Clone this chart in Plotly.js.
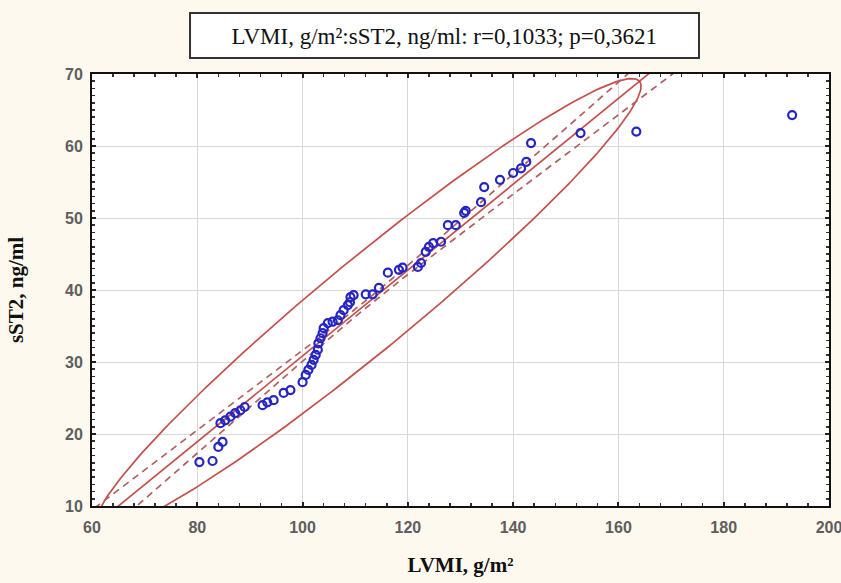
<!DOCTYPE html>
<html>
<head>
<meta charset="utf-8">
<script src="https://cdn.plot.ly/plotly-3.0.1.min.js"></script>
<style>
html,body{margin:0;padding:0;background:#fdf9ee;}
#chart{width:841px;height:583px;}
</style>
</head>
<body>
<div id="chart"></div>
<script>
// ---- data ----
const lvmi = [80.4, 82.9, 84.0, 84.8, 84.4, 85.3, 86.3, 87.2, 88.2, 89.0,
  92.4, 93.3, 94.5, 96.4, 97.7, 100.0, 100.6, 101.1, 101.7, 102.1,
  102.5, 102.9, 103.0, 103.4, 103.8, 104.0, 104.8, 105.7, 106.7, 107.2,
  107.8, 108.6, 109.0, 109.1, 109.7, 112.0, 113.3, 114.5, 116.2, 118.3,
  119.0, 121.9, 122.5, 123.4, 124.0, 124.8, 126.3, 127.6, 129.1, 130.7,
  131.0, 133.9, 134.5, 137.5, 140.0, 141.5, 142.5, 143.4, 152.8, 163.4, 193.0];
const sst2 = [16.1, 16.25, 18.2, 18.9, 21.5, 21.9, 22.4, 22.9, 23.3, 23.75,
  24.0, 24.4, 24.7, 25.7, 26.1, 27.2, 28.2, 28.9, 29.6, 30.3,
  31.0, 31.7, 32.6, 33.3, 34.0, 34.7, 35.4, 35.6, 35.8, 36.5,
  37.2, 37.9, 38.3, 39.0, 39.3, 39.4, 39.4, 40.3, 42.4, 42.8,
  43.1, 43.2, 43.75, 45.3, 46.0, 46.5, 46.7, 49.0, 49.0, 50.7,
  51.0, 52.2, 54.3, 55.3, 56.25, 56.9, 57.8, 60.4, 61.8, 62.0, 64.3];

const xTicks = [60, 80, 100, 120, 140, 160, 180, 200];
const yTicks = [10, 20, 30, 40, 50, 60, 70];

// fitted regression line: y = fitY0 + fitSlope*(x - fitX0)
const fitX0 = 112, fitY0 = 38, fitSlope = 0.596;
// 95% confidence band half-width parameters
const bandA = 0.25, bandB = 0.0021;
// 95% ellipse: centre, major and conjugate half-axis vectors (data units)
const ellC = [112.5, 38];
const ellA = [51.5, 31.0];
const ellB = [5.6, -4.8];

const titleText = 'LVMI, g/m²:sST2, ng/ml: r=0,1033; p=0,3621';
const xTitle = 'LVMI, g/m²';
const yTitle = 'sST2, ng/ml';

// ---- build curves ----
const lineX = [], lineY = [], upY = [], loY = [];
for (let x = 55; x <= 205; x += 1) {
  const y = fitY0 + fitSlope * (x - fitX0);
  const w = Math.sqrt(bandA + bandB * (x - fitX0) * (x - fitX0));
  lineX.push(x); lineY.push(y); upY.push(y + w); loY.push(y - w);
}
const ex = [], ey = [];
for (let i = 0; i <= 360; i++) {
  const t = i * Math.PI / 180;
  ex.push(ellC[0] + ellA[0] * Math.cos(t) + ellB[0] * Math.sin(t));
  ey.push(ellC[1] + ellA[1] * Math.cos(t) + ellB[1] * Math.sin(t));
}

const red = '#c4504c';
const dashRed = '#b06060';
const traces = [
  {x: ex, y: ey, mode: 'lines', line: {color: red, width: 1.7}, hoverinfo: 'skip', showlegend: false},
  {x: lineX, y: upY, mode: 'lines', line: {color: dashRed, width: 1.7, dash: '7px,5px'}, hoverinfo: 'skip', showlegend: false},
  {x: lineX, y: loY, mode: 'lines', line: {color: dashRed, width: 1.7, dash: '7px,5px'}, hoverinfo: 'skip', showlegend: false},
  {x: lineX, y: lineY, mode: 'lines', line: {color: red, width: 1.7}, hoverinfo: 'skip', showlegend: false},
  {x: lvmi, y: sst2, mode: 'markers', showlegend: false,
   marker: {symbol: 'circle-open', size: 8, color: '#2525c4', line: {width: 2.2, color: '#2525c4'}}}
];

const axisCommon = {
  showline: true, linecolor: '#111', linewidth: 2, mirror: 'allticks',
  ticks: 'inside', ticklen: 4, tickwidth: 2, tickcolor: '#222',
  showgrid: true, gridcolor: '#d8d8d8', gridwidth: 1, zeroline: false,
  ticklabeloverflow: 'allow',
  tickfont: {family: 'Liberation Sans, Arial, sans-serif', size: 16, color: '#5e5e5e', weight: 'bold'}
};

const serif = 'Liberation Serif, Times New Roman, serif';
const layout = {
  width: 841, height: 583,
  margin: {l: 92, r: 12, t: 74, b: 77},
  paper_bgcolor: '#fdf9ee', plot_bgcolor: '#ffffff',
  title: {text: titleText, font: {family: serif, size: 23, color: '#111'},
          xref: 'paper', x: 0.478, xanchor: 'center', yref: 'container', y: 0.938, yanchor: 'middle'},
  xaxis: Object.assign({}, axisCommon, {
    range: [60, 200], tickvals: xTicks, ticktext: xTicks.map(String), ticklabelstandoff: 6,
    minor: {ticks: 'inside', ticklen: 3, tickwidth: 1.5, tickcolor: '#333', dtick: 4, showgrid: false},
    title: {text: xTitle, standoff: 22, font: {family: serif, size: 21, color: '#111', weight: 'bold'}}
  }),
  yaxis: Object.assign({}, axisCommon, {
    range: [10, 70], tickvals: yTicks, ticktext: yTicks.map(String), ticklabelstandoff: 4,
    minor: {ticks: 'inside', ticklen: 3, tickwidth: 1.5, tickcolor: '#333', dtick: 1, showgrid: false},
    title: {text: yTitle, standoff: 36, font: {family: serif, size: 21, color: '#111', weight: 'bold'}}
  }),
  shapes: [{type: 'rect', xref: 'paper', yref: 'paper', x0: 0.133, x1: 0.8236, y0: 1.037, y1: 1.141,
            line: {color: '#333', width: 2}, fillcolor: '#ffffff', layer: 'below'}]
};

Plotly.newPlot('chart', traces, layout, {displayModeBar: false, staticPlot: true});
</script>
</body>
</html>
